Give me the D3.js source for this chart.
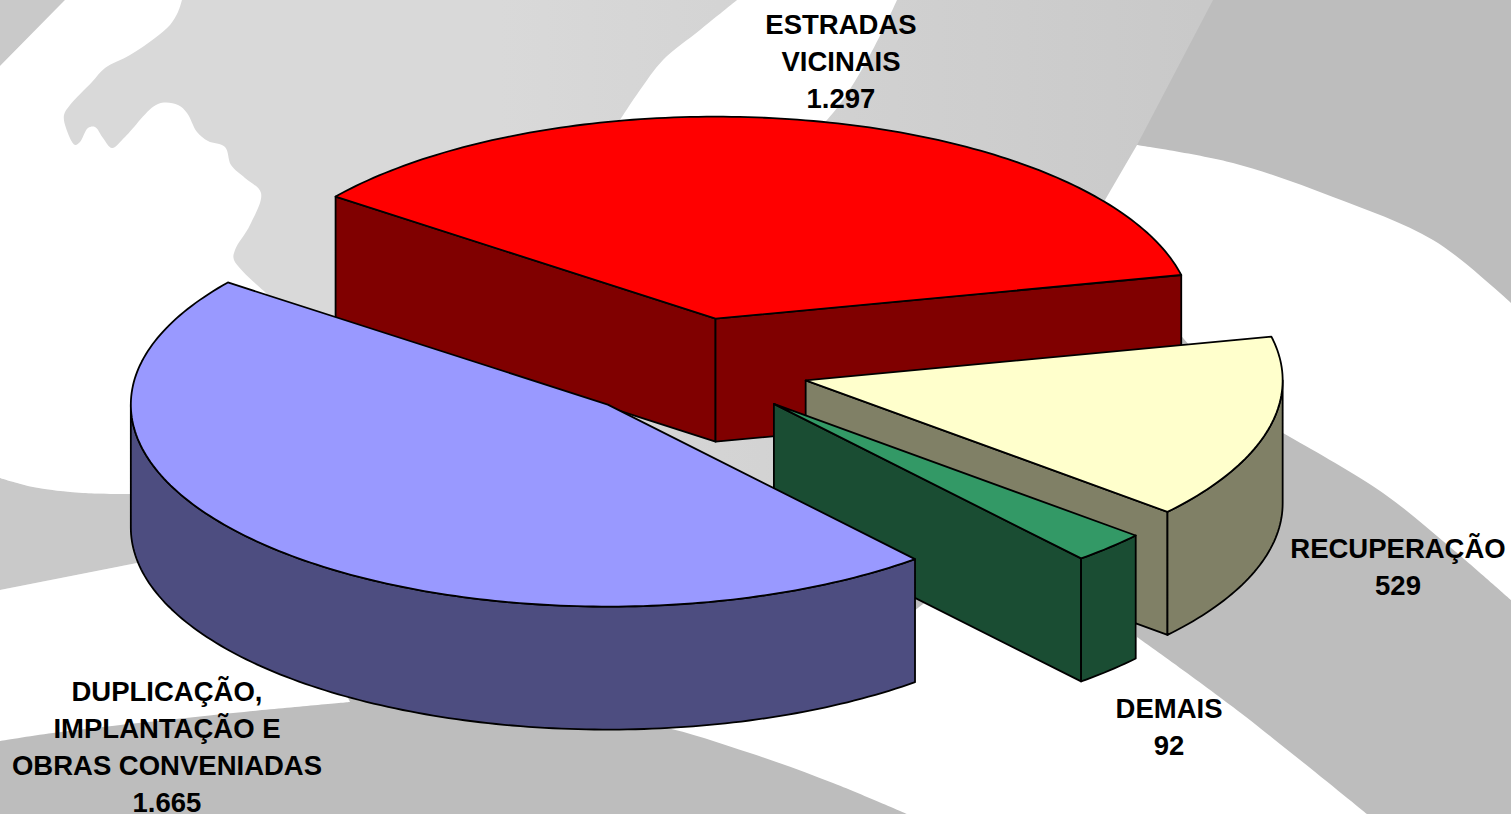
<!DOCTYPE html>
<html lang="pt">
<head>
<meta charset="utf-8">
<style>
html,body{margin:0;padding:0;background:#fff;overflow:hidden}
svg{display:block}
text{font-family:"Liberation Sans",Arial,sans-serif;font-weight:bold;font-size:27.5px;fill:#000;text-anchor:middle}
</style>
<script src="https://cdn.jsdelivr.net/npm/d3@7"></script>
</head>
<body>
<script>
// ---- data ----
const categories = [["ESTRADAS","VICINAIS"],["RECUPERAÇÃO"],["DEMAIS"],["DUPLICAÇÃO,","IMPLANTAÇÃO E","OBRAS CONVENIADAS"]];
const values = [1297,529,92,1665];
const topColors = ["#ff0000","#ffffcc","#339966","#9999ff"];
const sideColors = ["#800000","#808066","#1a4d33","#4d4d80"];

// ---- layout ----
const W = 1511, H = 814;
const cx = 690, cy = 368, rx = 477, ry = 202, depth = 123, explode = 0.25;
const startDeg = -52.8;
const labelX = [841,1398,1169,167];
const labelY = [34,558,718,701];
const lineGap = 37;

const BASE = "#bdbdbd", SOFT = "#c9c9c9";
const bgLight = [[0,0],[1213,0],[1137,145],[1060,290],[1000,420],[750,500],[300,600],[0,600]];
const bgCorner = [[0,0],[65,0],[0,66]];
const bandTop = [[0,478],[33,487],[83,493],[132,494],[200,492]];
const bandBottom = [[300,530],[137,563],[0,590]];
const silhouette = [[182,0],[178,12],[170,25],[155,38],[130,55],[105,68],[92,82],[70,105],[64,115],[66,128],[75,145],[80,142],[88,128],[95,127],[103,138],[112,148],[125,137],[158,104],[178,105],[187,113],[197,132],[208,141],[225,147],[231,165],[245,178],[261,193],[250,225],[235,250],[234,260],[265,292]];
const whiteLeftRest = [[300,340],[200,450],[132,494]];
const stripeLeft = [[737,0],[700,30],[663,60],[640,90],[620,120]];
const stripeRest = [[700,200],[827,120],[897,0]];
const swooshTop = [[1137,145],[1233,163],[1333,197],[1433,240],[1500,293],[1511,303]];
const swooshBottom = [[1511,600],[1450,547],[1383,493],[1290,437],[1250,415]];
const swooshRest = [[1150,300],[1105,200]];
const lowLeftTop = [[137,563],[0,590]];
const lowLeftBottom = [[0,741],[53,733],[233,713],[350,702]];
const lowLeftRest = [[300,600]];
const lowRightEdge = [[620,722],[663,727],[750,753],[833,783],[907,814]];
const lowRightEdge2 = [[1367,814],[1233,707],[1137,637]];
const lowRightRest = [[1137,625],[1100,620],[950,590],[905,620]];

const svg = d3.select("body").append("svg").attr("width",W).attr("height",H).attr("viewBox",[0,0,W,H]);

// ---- background ----
const grad = svg.append("defs").append("linearGradient").attr("id","soft")
  .attr("gradientUnits","userSpaceOnUse").attr("x1",500).attr("x2",1200).attr("y1",0).attr("y2",0);
grad.append("stop").attr("offset",0).attr("stop-color","#d9d9d9");
grad.append("stop").attr("offset",1).attr("stop-color","#c9c9c9");

const smooth = d3.line().curve(d3.curveCatmullRom.alpha(0.5));
// join smooth edges into one closed outline
const outline = (...segs) => segs.map((s,i)=>{ const d=smooth(s); return i? "L"+d.slice(1) : d; }).join("")+"Z";
const straight = d3.line().curve(d3.curveLinearClosed);
const bg = svg.append("g");
bg.append("rect").attr("width",W).attr("height",H).attr("fill",BASE);
bg.append("path").attr("d",straight(bgLight)).attr("fill","url(#soft)");
bg.append("path").attr("d",straight(bgCorner)).attr("fill",SOFT);
bg.append("path").attr("d",outline(bandTop,bandBottom)).attr("fill",SOFT);
[
  outline([[65,0]],silhouette,whiteLeftRest,[[132,494],[83,493],[33,487],[0,478]],[[0,66]]),
  outline(stripeLeft,stripeRest),
  outline(swooshTop,swooshBottom,swooshRest),
  outline(lowLeftTop,lowLeftBottom,lowLeftRest),
  outline(lowRightEdge,lowRightEdge2,lowRightRest)
].forEach(d=>bg.append("path").attr("d",d).attr("fill","#fff"));

// ---- pie ----
const rad = d => d*Math.PI/180;
const pie = d3.pie().sort(null).startAngle(rad(startDeg)).endAngle(rad(startDeg+360));
const slices = pie(values);
const sx = d3.scaleLinear().domain([-1,1]).range([-rx,rx]);
const sy = d3.scaleLinear().domain([-1,1]).range([-ry,ry]);
const ring = (a,r=1) => [sx(r*Math.sin(a)), sy(-r*Math.cos(a))];
const sample = (a0,a1) => { const n=Math.max(2,Math.ceil(Math.abs(a1-a0)/rad(1))); return d3.range(n+1).map(i=>a0+(a1-a0)*i/n); };
const fmt = d3.formatLocale({decimal:",",thousands:".",grouping:[3],currency:["R$",""]}).format(",d");
const line = d3.line().curve(d3.curveLinearClosed);

const chart = svg.append("g");
slices.forEach((s,i)=>{
  const mid = (s.startAngle+s.endAngle)/2;
  const [ox,oy] = ring(mid,explode);
  const g = chart.append("g").attr("transform",`translate(${cx+ox},${cy+oy})`)
    .attr("stroke","#000").attr("stroke-width",1.8).attr("stroke-linejoin","round");
  const wall = pts => [...pts, ...pts.slice().reverse().map(p=>[p[0],p[1]+depth])];
  const a0=s.startAngle, a1=s.endAngle;
  if(Math.sin(a0)<0) g.append("path").attr("d",line(wall([ring(a0),[0,0]]))).attr("fill",sideColors[i]);
  if(Math.sin(a1)>0) g.append("path").attr("d",line(wall([[0,0],ring(a1)]))).attr("fill",sideColors[i]);
  const lo=Math.max(a0,rad(90)), hi=Math.min(a1,rad(270));
  if(hi>lo) g.append("path").attr("d",line(wall(sample(lo,hi).map(a=>ring(a))))).attr("fill",sideColors[i]);
  g.append("path").attr("d",line([[0,0],...sample(a0,a1).map(a=>ring(a))])).attr("fill",topColors[i]);
});

// ---- labels ----
const labels = svg.append("g");
categories.forEach((lines,i)=>{
  const t = labels.append("text").attr("x",labelX[i]).attr("y",labelY[i]);
  [...lines, fmt(values[i])].forEach((l,j)=>
    t.append("tspan").attr("x",labelX[i]).attr("dy",j?lineGap:0).text(l));
});
</script>
</body>
</html>
